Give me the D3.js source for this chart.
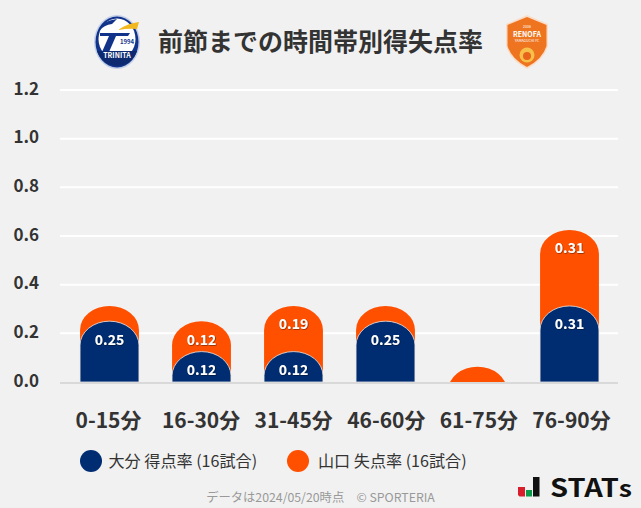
<!DOCTYPE html>
<html><head><meta charset="utf-8">
<script src="https://cdn.jsdelivr.net/npm/d3@7"></script>
<style>
html,body{margin:0;padding:0;background:#f1f1f1;}
svg{display:block;}
text{font-family:"Noto Sans CJK JP","Noto Sans",sans-serif;}
</style></head><body>
<svg id="c" width="641" height="508"></svg>
<script>
const categories = ["0-15分","16-30分","31-45分","46-60分","61-75分","76-90分"];
const oitaScored = [0.25,0.125,0.125,0.25,0,0.3125];
const yamaguchiConceded = [0.0625,0.125,0.1875,0.0625,0.0625,0.3125];
const oitaLabels = ["0.25","0.12","0.12","0.25","","0.31"];
const yamaguchiLabels = ["","0.12","0.19","","","0.31"];
const yTicks = [0,0.2,0.4,0.6,0.8,1.0,1.2];
const titleText = "前節までの時間帯別得失点率";
const legendLabels = ["大分 得点率 (16試合)","山口 失点率 (16試合)"];
const footerText = "データは2024/05/20時点　© SPORTERIA";
const navy = "#002d72", orange = "#ff5000";

const svg = d3.select("#c");
svg.append("rect").attr("width",641).attr("height",508).attr("fill","#f1f1f1");
const y = d3.scaleLinear().domain([0,1.2]).range([382,90]);
const x = d3.scaleBand().domain(categories).range([63.5,615.5]).paddingInner(0.36).paddingOuter(0.18);
const xLabel = d3.scalePoint().domain(categories).range([108.5,571.5]);

const defs = svg.append("defs");
defs.append("clipPath").attr("id","plot").append("rect").attr("x",0).attr("y",0).attr("width",641).attr("height",382);
const sh = defs.append("filter").attr("id","ts").attr("x","-20%").attr("y","-20%").attr("width","140%").attr("height","140%");
sh.append("feDropShadow").attr("dx",0.6).attr("dy",0.6).attr("stdDeviation",0.4).attr("flood-color","#000").attr("flood-opacity",0.6);

// grid
svg.append("g").selectAll("line").data(yTicks.filter(d=>d>0)).join("line")
  .attr("x1",60).attr("x2",618).attr("y1",d=>y(d)).attr("y2",d=>y(d))
  .attr("stroke","#fff").attr("stroke-width",2);
svg.append("line").attr("x1",60).attr("x2",618).attr("y1",383).attr("y2",383).attr("stroke","#d9d9d9").attr("stroke-width",2);

// y labels
svg.append("g").selectAll("text").data(yTicks).join("text")
  .attr("x",39).attr("y",d=>y(d)+4.5).attr("text-anchor","end")
  .attr("font-size",17).attr("font-weight",700).attr("fill","#333")
  .text(d=>d.toFixed(1));

// rounded-top bar path
const ry = 24;
function barPath(i,v){
  const x0=x(categories[i]), w=x.bandwidth(), top=y(v), base=y(0), rx=w/2;
  return `M${x0},${base}L${x0},${top+ry}A${rx},${ry} 0 0 1 ${x0+w},${top+ry}L${x0+w},${base}Z`;
}
const bars = svg.append("g").attr("clip-path","url(#plot)");
bars.selectAll("path.o").data(yamaguchiConceded).join("path").attr("class","o")
  .attr("fill",orange).attr("d",(d,i)=>barPath(i,oitaScored[i]+d));
bars.selectAll("path.n").data(oitaScored).join("path").attr("class","n")
  .attr("fill",navy).attr("stroke","#e8e8e8").attr("stroke-width",0.8)
  .attr("display",d=>d>0?null:"none")
  .attr("d",(d,i)=>barPath(i,d));

// value labels
function lbl(labels,pos){
  svg.append("g").selectAll("text").data(labels).join("text")
    .attr("x",(d,i)=>x(categories[i])+x.bandwidth()/2)
    .attr("y",(d,i)=>y(pos(i))+23.5)
    .attr("text-anchor","middle").attr("font-size",14).attr("font-weight",700).attr("fill","#fff")
    .attr("filter","url(#ts)")
    .text(d=>d);
}
lbl(oitaLabels,i=>oitaScored[i]);
lbl(yamaguchiLabels,i=>oitaScored[i]+yamaguchiConceded[i]);

// x labels
svg.append("g").selectAll("text").data(categories).join("text")
  .attr("x",d=>xLabel(d)).attr("y",428).attr("text-anchor","middle")
  .attr("font-size",21).attr("font-weight",700).attr("fill","#333").text(d=>d);

// title
svg.append("text").attr("x",320.5).attr("y",51).attr("text-anchor","middle")
  .attr("font-size",25).attr("font-weight",700).attr("fill","#333").text(titleText);

// legend
[[91,108.5,navy],[298,318,orange]].forEach((l,i)=>{
  svg.append("circle").attr("cx",l[0]).attr("cy",461).attr("r",11).attr("fill",l[2]);
  svg.append("text").attr("x",l[1]).attr("y",467).attr("font-size",16.1).attr("fill","#333").text(legendLabels[i]);
});

// footer
svg.append("text").attr("x",320.5).attr("y",502).attr("text-anchor","middle").attr("font-size",12.3).attr("fill","#999").text(footerText);

// STATS logo
const st = svg.append("g");
st.append("path").attr("d","M518,487h7v9.5h-5.5l-1.5,-1.5z").attr("fill","#d81e2c");
st.append("rect").attr("x",526).attr("y",490).attr("width",6).attr("height",6.5).attr("fill","#0a9b4a");
st.append("rect").attr("x",533).attr("y",477).attr("width",6.5).attr("height",19.5).attr("fill","#111");
const stx = st.append("text").attr("x",550).attr("y",496.5).attr("font-family","'DejaVu Sans',sans-serif").attr("font-size",25).attr("font-weight",700).attr("fill","#111").attr("textLength",82).attr("lengthAdjust","spacingAndGlyphs");
stx.append("tspan").text("STAT");
stx.append("tspan").attr("font-size",23).text("s");

// Oita logo
const a = svg.append("g");
a.append("ellipse").attr("cx",117).attr("cy",42).attr("rx",23).attr("ry",27).attr("fill","#c3cfe8");
a.append("ellipse").attr("cx",117).attr("cy",42).attr("rx",21.5).attr("ry",25.5).attr("fill","#12338a");
a.append("ellipse").attr("cx",117).attr("cy",39).attr("rx",18.5).attr("ry",20.5).attr("fill","#fff");
a.append("path").attr("d","M99,31q2,-10 18,-12l-3,3l-2,2q-8,1 -13,7z").attr("fill","#12338a");
a.append("path").attr("d","M100,33h30l-2,3h-12l-7,16h-7l7,-16h-9z").attr("fill","#12338a");
a.append("path").attr("d","M118,30q10,-7 21,-8l-2,7q-9,-1 -19,1z").attr("fill","#f2b81f");
a.append("text").attr("x",127).attr("y",44).attr("text-anchor","middle").attr("font-size",6).attr("font-weight",700).attr("fill","#12338a").text("1994");
a.append("path").attr("d","M97,51h40q-5,14 -20,15q-15,-1 -20,-15z").attr("fill","#0d2a70");
a.append("text").attr("x",117).attr("y",57.5).attr("text-anchor","middle").attr("font-size",7).attr("font-weight",700).attr("fill","#fff").text("TRINITA");

// Renofa logo
const b = svg.append("g");
b.append("path").attr("d","M527,15l21,9v22q-4,14 -21,23q-17,-9 -21,-23v-22z").attr("fill","#fbdcc6");
b.append("path").attr("d","M527,17l19.5,8v21q-4,13 -19.5,21q-15.5,-8 -19.5,-21v-21z").attr("fill","#ee7420");
b.append("text").attr("x",527).attr("y",37).attr("text-anchor","middle").attr("font-size",7).attr("font-weight",700).attr("fill","#fff").text("RENOFA");
b.append("text").attr("x",527).attr("y",41.5).attr("text-anchor","middle").attr("font-size",3.5).attr("fill","#fff").text("YAMAGUCHI FC");
b.append("text").attr("x",527).attr("y",28).attr("text-anchor","middle").attr("font-size",3.5).attr("fill","#fff").text("2006");
b.append("circle").attr("cx",527).attr("cy",55).attr("r",7.5).attr("fill","#f6c04a");
b.append("circle").attr("cx",527).attr("cy",56).attr("r",4).attr("fill","#e8641a");
</script></body></html>
